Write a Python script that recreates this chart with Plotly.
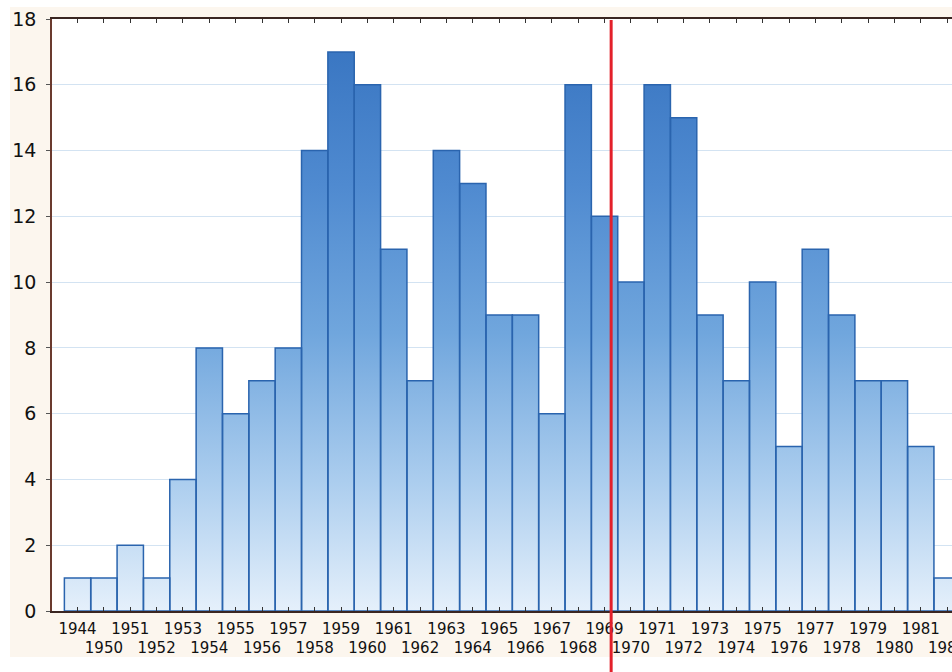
import plotly.graph_objects as go

years = ["1944", "1950", "1951", "1952", "1953", "1954", "1955", "1956", "1957", "1958",
         "1959", "1960", "1961", "1962", "1963", "1964", "1965", "1966", "1967", "1968",
         "1969", "1970", "1971", "1972", "1973", "1974", "1975", "1976", "1977", "1978",
         "1979", "1980", "1981", "1982"]
counts = [1, 1, 2, 1, 4, 8, 6, 7, 8, 14,
          17, 16, 11, 7, 14, 13, 9, 9, 6, 16,
          12, 10, 16, 15, 9, 7, 10, 5, 11, 9,
          7, 7, 5, 1]
y_ticks = [0, 2, 4, 6, 8, 10, 12, 14, 16, 18]
marker_position = 20.25  # red vertical marker, in bar-index units

idx = list(range(len(years)))
ticktext = [y if i % 2 == 0 else "<br>" + y for i, y in enumerate(years)]

# gradient-filled bar outlines built from the bar data
px, py = [], []
for i, v in zip(idx, counts):
    px += [i - 0.5, i - 0.5, i + 0.5, i + 0.5, i - 0.5, None]
    py += [0, v, v, 0, 0, None]

fig = go.Figure()
fig.add_trace(go.Bar(
    x=idx, y=counts, width=1,
    marker=dict(color="rgba(0,0,0,0)", line=dict(width=0)),
    showlegend=False, hoverinfo="skip",
))
fig.add_trace(go.Scatter(
    x=px, y=py, mode="lines", fill="toself",
    line=dict(width=1.5, color="#2a64ae"),
    connectgaps=False, hoverinfo="skip", showlegend=False,
    fillgradient=dict(type="vertical", start=0, stop=18,
                      colorscale=[[0, "#e5f0fb"], [0.22, "#abcdee"], [0.47, "#70a6dd"],
                                  [0.72, "#4f8ad0"], [1, "#3572bf"]]),
))

W, H = 952, 672
l, r, t, b = 52, 0, 19, 61
pw, ph = W - l - r, H - t - b
bottom_px = H - b

def py_(ypix):
    return (bottom_px - ypix) / ph

def px_(xpix):
    return (xpix - l) / pw

white = dict(width=0)
fig.update_layout(
    width=W, height=H,
    margin=dict(l=l, r=r, t=t, b=b, pad=0),
    paper_bgcolor="#fcf6ee", plot_bgcolor="white",
    font=dict(family="DejaVu Sans, Liberation Sans, sans-serif", size=14, color="#111111"),
    bargap=0,
    shapes=[
        dict(type="rect", xref="paper", yref="paper", x0=px_(-5), x1=px_(10),
             y0=py_(H + 5), y1=py_(-5), fillcolor="white", line=white, layer="below"),
        dict(type="rect", xref="paper", yref="paper", x0=px_(-5), x1=px_(W + 5),
             y0=py_(7), y1=py_(-5), fillcolor="white", line=white, layer="below"),
        dict(type="rect", xref="paper", yref="paper", x0=px_(-5), x1=px_(W + 5),
             y0=py_(H + 5), y1=py_(657), fillcolor="white", line=white, layer="below"),
        dict(type="line", xref="x", yref="paper",
             x0=marker_position, x1=marker_position, y0=py_(H + 5), y1=py_(20),
             line=dict(color="#e3202a", width=3), layer="above"),
    ],
)
fig.update_xaxes(
    range=[-0.97, -0.97 + pw / 26.35],
    tickmode="array", tickvals=idx, ticktext=ticktext,
    ticks="inside", ticklen=4, tickcolor="#333", tickwidth=1,
    showline=True, linecolor="#3a2622", linewidth=1.5, mirror="ticks",
    showgrid=False, zeroline=False, automargin=False,
    ticklabeloverflow="allow", ticklabelstandoff=3,
    tickfont=dict(size=15), tickangle=0,
)
fig.update_yaxes(
    range=[0, 18], tickmode="array", tickvals=y_ticks,
    ticks="outside", ticklen=4, tickcolor="#555",
    showline=True, linecolor="#6a3a2e", linewidth=1.5,
    showgrid=True, gridcolor="#d3e3f2", gridwidth=1, zeroline=False,
    automargin=False, ticklabelstandoff=6, ticklabeloverflow="allow",
    tickfont=dict(size=19),
)

fig.write_html(
    "out.html",
    config={"displayModeBar": False},
    post_script="document.body.style.margin='0';document.body.style.overflow='hidden';",
)
